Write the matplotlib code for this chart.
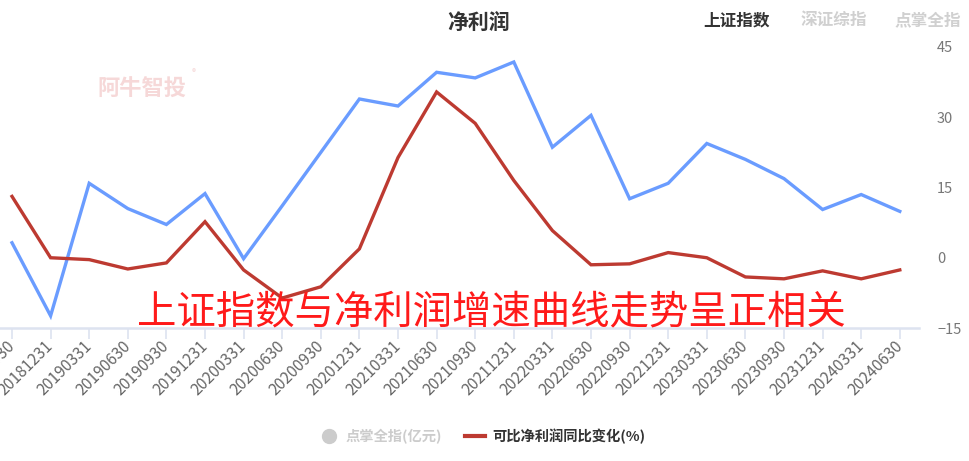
import matplotlib.pyplot as plt
from matplotlib.lines import Line2D

plt.rcParams['font.family'] = ['Noto Sans CJK SC', 'DejaVu Sans']

# Quarter labels
dates = ["20180930", "20181231", "20190331", "20190630", "20190930", "20191231",
         "20200331", "20200630", "20200930", "20201231", "20210331", "20210630",
         "20210930", "20211231", "20220331", "20220630", "20220930", "20221231",
         "20230331", "20230630", "20230930", "20231231", "20240331", "20240630"]

# Blue series (上证指数)
indexValues = [3.2, -12.4, 15.9, 10.5, 7.1, 13.7, -0.2, 11.1, 22.5, 33.9, 32.4, 39.6,
               38.4, 41.8, 23.6, 30.4, 12.6, 15.9, 24.4, 21.0, 16.9, 10.3, 13.5, 9.9]

# Red series: 可比净利润同比变化(%)
profitGrowth = [13.1, 0.0, -0.4, -2.4, -1.1, 7.7, -2.6, -8.6, -6.2, 1.9, 21.4, 35.4,
                28.7, 16.5, 5.8, -1.5, -1.3, 1.1, 0.0, -4.1, -4.5, -2.8, -4.5, -2.6]

yTicks = [-15, 0, 15, 30, 45]

blue = '#6a9cff'
red = '#bd3a31'

W, H = 969, 461
fig = plt.figure(figsize=(W / 100, H / 100), dpi=100)

# plot area in pixels: x 0..919, y 47..328
ax = fig.add_axes([0, 1 - 328 / H, 919 / W, (328 - 47) / H])

x = list(range(len(dates)))
ax.plot(x, indexValues, color=blue, linewidth=2.4, solid_joinstyle='miter')
ax.plot(x, profitGrowth, color=red, linewidth=2.4, solid_joinstyle='miter')

step = 38.6
ax.set_xlim(-12 / step, (919 - 12) / step)
ax.set_ylim(-15, 45)

ax.set_xticks(x)
ax.set_xticklabels(dates, rotation=45, ha='right', va='center',
                   rotation_mode='anchor', fontsize=11.3, color='#666666')
ax.tick_params(axis='x', length=8, width=1.2, color='#dde3f0', pad=3)

ax.yaxis.tick_right()
ax.set_yticks(yTicks)
ax.set_yticklabels([str(v) if v >= 0 else '\u2212' + str(-v) for v in yTicks],
                   fontsize=10.5, color='#777777', ha='left')
ax.tick_params(axis='y', length=0, pad=13)

for side in ['top', 'left', 'right']:
    ax.spines[side].set_visible(False)
ax.spines['bottom'].set_color('#dde3f0')
ax.spines['bottom'].set_linewidth(1.8)
ax.patch.set_alpha(0)

# title and tabs
fig.text(479 / W, 1 - 22 / H, '净利润', ha='center', va='center',
         fontsize=15, fontweight='bold', color='#333333')
fig.text(737 / W, 1 - 20 / H, '上证指数', ha='center', va='center',
         fontsize=12, fontweight='bold', color='#333333')
fig.text(834 / W, 1 - 20 / H, '深证综指', ha='center', va='center',
         fontsize=12, fontweight='bold', color='#d0d0d0')
fig.text(928 / W, 1 - 20 / H, '点掌全指', ha='center', va='center',
         fontsize=12, fontweight='bold', color='#d0d0d0')

# watermark
fig.text(142 / W, 1 - 89 / H, '阿牛智投', ha='center', va='center',
         fontsize=16, fontweight='bold', color='#f6d8d8')
fig.text(194 / W, 1 - 73 / H, '®', ha='center', va='center',
         fontsize=6, color='#f6d8d8')

# overlay annotation
fig.text(491 / W, 1 - 312 / H, '上证指数与净利润增速曲线走势呈正相关',
         ha='center', va='center', fontsize=28.4, color='#ff1a1a')

# legend
handles = [Line2D([], [], marker='o', linestyle='none', color='#cccccc', markersize=10),
           Line2D([], [], color=red, linewidth=3)]
leg = fig.legend(handles, ['点掌全指(亿元)', '可比净利润同比变化(%)'],
                 loc='center', bbox_to_anchor=(482 / W, 1 - 436 / H), ncol=2,
                 frameon=False, fontsize=10.3, handlelength=1.4, handletextpad=0.5,
                 columnspacing=1.6)
leg.get_texts()[0].set_color('#cccccc')
leg.get_texts()[1].set_color('#333333')
for t in leg.get_texts():
    t.set_fontweight('bold')

fig.savefig('out.png', dpi=100)
